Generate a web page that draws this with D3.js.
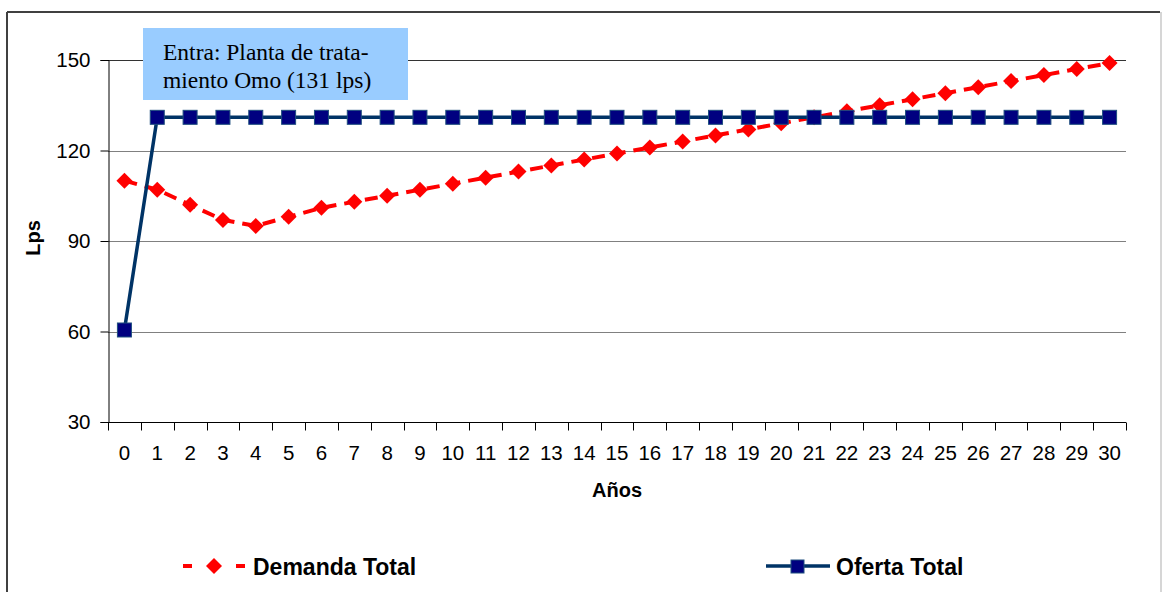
<!DOCTYPE html>
<html>
<head>
<meta charset="utf-8">
<script src="https://cdn.jsdelivr.net/npm/d3@7"></script>
<style>
  body { margin: 0; background: #fff; }
  svg { display: block; font-family: Arial, "Liberation Sans", sans-serif; }
</style>
</head>
<body>
<div id="chart"></div>
<script>
// data
var years = d3.range(0, 31);
var demanda = [110, 107, 102, 97, 95, 98, 101, 103, 105, 107, 109, 111, 113, 115, 117, 119,
  121, 123, 125, 127, 129, 131, 133, 135, 137, 139, 141, 143, 145, 147, 149];
var oferta = [60.5, 131, 131, 131, 131, 131, 131, 131, 131, 131, 131, 131, 131, 131, 131, 131,
  131, 131, 131, 131, 131, 131, 131, 131, 131, 131, 131, 131, 131, 131, 131];
var yTicks = [30, 60, 90, 120, 150];
var seriesNames = ["Demanda Total", "Oferta Total"];
var noteLines = ["Entra: Planta de trata-", "miento Omo (131 lps)"];

var W = 1162, H = 592;

var svg = d3.select("#chart").append("svg")
  .attr("width", W)
  .attr("height", H);

// outer frame
svg.append("line").attr("x1", 7).attr("y1", 12).attr("x2", 1160).attr("y2", 12)
  .attr("stroke", "#404040").attr("stroke-width", 2);
svg.append("line").attr("x1", 7).attr("y1", 12).attr("x2", 7).attr("y2", H)
  .attr("stroke", "#404040").attr("stroke-width", 2);
svg.append("line").attr("x1", 1161).attr("y1", 12).attr("x2", 1161).attr("y2", H)
  .attr("stroke", "#c8c8c8").attr("stroke-width", 1.5);

var x = d3.scaleBand()
  .domain(years)
  .range([108, 1126]);

var y = d3.scaleLinear()
  .domain([30, 150])
  .range([422, 60]);

var cx = function(d) { return x(d) + x.bandwidth() / 2; };

// grid
svg.append("g")
  .selectAll("line")
  .data(yTicks.slice(1))
  .enter().append("line")
  .attr("x1", 108).attr("x2", 1126)
  .attr("y1", function(d) { return Math.round(y(d)) + 0.5; })
  .attr("y2", function(d) { return Math.round(y(d)) + 0.5; })
  .attr("stroke", function(d) { return d == 150 ? "#333" : "#808080"; })
  .attr("stroke-width", 1);

// y axis
var yAxis = svg.append("g")
  .attr("transform", "translate(108.5,0)")
  .call(d3.axisLeft(y).tickValues(yTicks).tickSize(8).tickPadding(10));
yAxis.select(".domain").attr("stroke", "#000");
yAxis.selectAll(".tick line").attr("stroke", "#000");
yAxis.selectAll("text").attr("font-size", "20.5px").attr("fill", "#000")
  .attr("font-family", "Arial, 'Liberation Sans', sans-serif");

// x axis (ticks between categories)
var xAxis = svg.append("g")
  .attr("transform", "translate(0," + (y(30) + 0.5) + ")")
  .call(d3.axisBottom(x).tickSize(0).tickPadding(23));
xAxis.select(".domain").remove();
xAxis.selectAll("text").attr("font-size", "20.5px").attr("fill", "#000")
  .attr("font-family", "Arial, 'Liberation Sans', sans-serif");
xAxis.append("line").attr("x1", 108).attr("x2", 1126).attr("stroke", "#000");
xAxis.selectAll(".xt")
  .data(years.concat([31]))
  .enter().append("line")
  .attr("class", "xt")
  .attr("x1", function(d) { return d < 31 ? Math.round(x(d)) + 0.5 : 1126.5; })
  .attr("x2", function(d) { return d < 31 ? Math.round(x(d)) + 0.5 : 1126.5; })
  .attr("y1", 0).attr("y2", 8)
  .attr("stroke", "#000");

// axis titles
svg.append("text")
  .attr("x", 617).attr("y", 497)
  .attr("text-anchor", "middle")
  .attr("font-size", "20px").attr("font-weight", "bold")
  .text("Años");
svg.append("text")
  .attr("transform", "translate(40,238) rotate(-90)")
  .attr("text-anchor", "middle")
  .attr("font-size", "20px").attr("font-weight", "bold")
  .text("Lps");

// Demanda line
var line = d3.line()
  .x(function(d, i) { return cx(years[i]); })
  .y(function(d) { return y(d); });

svg.append("path")
  .datum(demanda)
  .attr("d", line)
  .attr("fill", "none")
  .attr("stroke", "#ff0000")
  .attr("stroke-width", 4)
  .attr("stroke-dasharray", "13,8");

svg.append("g")
  .selectAll("path")
  .data(demanda)
  .enter().append("path")
  .attr("d", d3.symbol().type(d3.symbolSquare).size(128))
  .attr("transform", function(d, i) { return "translate(" + cx(years[i]) + "," + y(d) + ") rotate(45)"; })
  .attr("fill", "#ff0000");

// Oferta line
svg.append("path")
  .datum(oferta)
  .attr("d", line)
  .attr("fill", "none")
  .attr("stroke", "#003366")
  .attr("stroke-width", 3.5);

svg.append("g")
  .selectAll("rect")
  .data(oferta)
  .enter().append("rect")
  .attr("x", function(d, i) { return cx(years[i]) - 7; })
  .attr("y", function(d) { return y(d) - 7; })
  .attr("width", 14).attr("height", 14)
  .attr("fill", "#000080")
  .attr("stroke", "#1f4f7f")
  .attr("stroke-width", 1);

// annotation
svg.append("rect")
  .attr("x", 143).attr("y", 28)
  .attr("width", 265).attr("height", 72)
  .attr("fill", "#99ccff");
svg.append("g")
  .selectAll("text")
  .data(noteLines)
  .enter().append("text")
  .attr("x", 163)
  .attr("y", function(d, i) { return 60 + i * 28; })
  .style("font-family", "'Liberation Serif', 'Times New Roman', serif")
  .style("font-size", "23.5px")
  .attr("fill", "#000")
  .text(function(d) { return d; });

// legend
var lg = svg.append("g");
lg.append("line").attr("x1", 183).attr("x2", 192).attr("y1", 566).attr("y2", 566)
  .attr("stroke", "#ff0000").attr("stroke-width", 4);
lg.append("line").attr("x1", 236).attr("x2", 245).attr("y1", 566).attr("y2", 566)
  .attr("stroke", "#ff0000").attr("stroke-width", 4);
lg.append("path")
  .attr("d", d3.symbol().type(d3.symbolSquare).size(128))
  .attr("transform", "translate(214,566) rotate(45)")
  .attr("fill", "#ff0000");
lg.append("text").attr("x", 253).attr("y", 575)
  .attr("font-size", "23px").attr("font-weight", "bold")
  .text(seriesNames[0]);

lg.append("line").attr("x1", 766).attr("x2", 830).attr("y1", 566).attr("y2", 566)
  .attr("stroke", "#003366").attr("stroke-width", 3.5);
lg.append("rect").attr("x", 791).attr("y", 560).attr("width", 13).attr("height", 13)
  .attr("fill", "#000080").attr("stroke", "#1f4f7f");
lg.append("text").attr("x", 836).attr("y", 575)
  .attr("font-size", "23px").attr("font-weight", "bold")
  .text(seriesNames[1]);
</script>
</body>
</html>
